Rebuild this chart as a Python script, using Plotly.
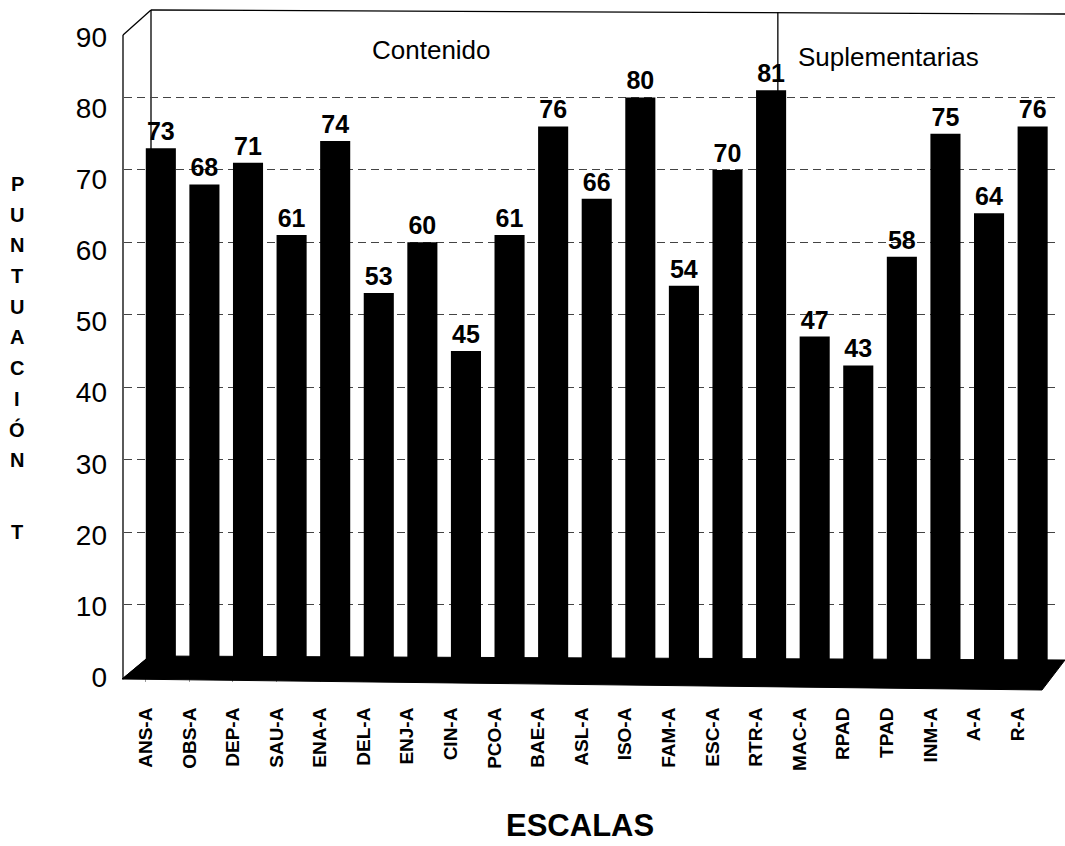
import plotly.graph_objects as go

# ---- data ----
categories = ["ANS-A", "OBS-A", "DEP-A", "SAU-A", "ENA-A", "DEL-A", "ENJ-A",
              "CIN-A", "PCO-A", "BAE-A", "ASL-A", "ISO-A", "FAM-A", "ESC-A",
              "RTR-A", "MAC-A", "RPAD", "TPAD", "INM-A", "A-A", "R-A"]
values = [73, 68, 71, 61, 74, 53, 60, 45, 61, 76, 66, 80, 54, 70, 81,
          47, 43, 58, 75, 64, 76]
y_ticks = [0, 10, 20, 30, 40, 50, 60, 70, 80, 90]
group_labels = ["Contenido", "Suplementarias"]
y_title = "PUNTUACIÓN T"
x_title = "ESCALAS"

# ---- page geometry (pixels) ----
W, H = 1065, 846
L, R, T, B = 124, 1059, 25, 677


def px(x):
    return (x - L) / (R - L)


def py(y):
    return (B - y) / (B - T)


SANS = "Liberation Sans, Arial, sans-serif"

fig = go.Figure()
fig.add_trace(go.Bar(
    x=list(range(len(categories))),
    y=values,
    width=0.69,
    offset=0,
    marker=dict(color="black", line=dict(width=0)),
    text=[str(v) for v in values],
    textposition="outside",
    textfont=dict(family=SANS, size=25, color="black", weight="bold"),
    cliponaxis=False,
    hoverinfo="x+y",
))
# invisible trace carrying the front-wall value scale (tick labels)
fig.add_trace(go.Scatter(x=[0], y=[0], yaxis="y2", mode="markers",
                         marker=dict(opacity=0), hoverinfo="skip", showlegend=False))

shapes = []
# floor slab
shapes.append(dict(
    type="path", xref="paper", yref="paper", layer="above",
    path=f"M {px(122)},{py(679)} L {px(150)},{py(656)} L {px(1065)},{py(660)} "
         f"L {px(1042)},{py(690)} Z",
    fillcolor="black", line=dict(color="black", width=1)))
# left wall / back wall frame
frame_lines = [
    ((123, 679), (123, 35)),
    ((123, 35), (151, 10)),
    ((151, 10), (1065, 14)),
    ((151, 10), (151, 656)),
    ((123, 679), (150, 656)),
]
for (x0, y0), (x1, y1) in frame_lines:
    shapes.append(dict(type="line", xref="paper", yref="paper",
                       x0=px(x0), y0=py(y0), x1=px(x1), y1=py(y1),
                       line=dict(color="black", width=1.3), layer="below"))
# divider between groups
shapes.append(dict(type="line", xref="x", yref="paper",
                   x0=14.5, x1=14.5, y0=py(95), y1=py(12),
                   line=dict(color="black", width=1.3), layer="below"))

annotations = []


def note(text, x, y, size, bold=False):
    font = dict(family=SANS, size=size, color="black")
    if bold:
        font["weight"] = "bold"
    annotations.append(dict(text=text, x=px(x), y=py(y), xref="paper", yref="paper",
                            xanchor="center", yanchor="middle",
                            showarrow=False, font=font))


# group labels
note(group_labels[0], 431, 50, 26)
note(group_labels[1], 888, 57, 26)
# vertical stacked y title
word = y_title.split(" ")
for k, ch in enumerate(word[0]):
    note(ch, 17, 184 + 30.7 * k, 20, bold=True)
note(word[1], 17, 532, 20, bold=True)
# x title
note(x_title, 580, 826, 31, bold=True)

fig.update_layout(
    width=W, height=H,
    margin=dict(l=L, r=W - R, t=T, b=H - B, pad=0),
    paper_bgcolor="white", plot_bgcolor="white",
    showlegend=False,
    shapes=shapes,
    annotations=annotations,
    xaxis=dict(
        range=[-0.5, 20.95],
        tickmode="array", tickvals=list(range(len(categories))), ticktext=categories,
        tickangle=-90,
        tickfont=dict(family=SANS, size=19, color="black", weight="bold"),
        ticks="outside", ticklen=4, tickcolor="#999",
        ticklabelstandoff=18,
        showgrid=False, zeroline=False, showline=False,
    ),
    yaxis=dict(
        range=[0, 90],
        tickmode="array", tickvals=y_ticks, showticklabels=False,
        ticks="",
        showgrid=True, gridcolor="#444", griddash="8px,5px", gridwidth=1,
        zeroline=False, showline=False,
    ),
    yaxis2=dict(
        overlaying="y", side="left",
        range=[0, 91.7],
        tickmode="array", tickvals=y_ticks,
        tickfont=dict(family=SANS, size=28, color="black"),
        ticks="", ticklabelstandoff=16,
        showgrid=False, zeroline=False, showline=False,
    ),
)

fig.write_html("out.html")
